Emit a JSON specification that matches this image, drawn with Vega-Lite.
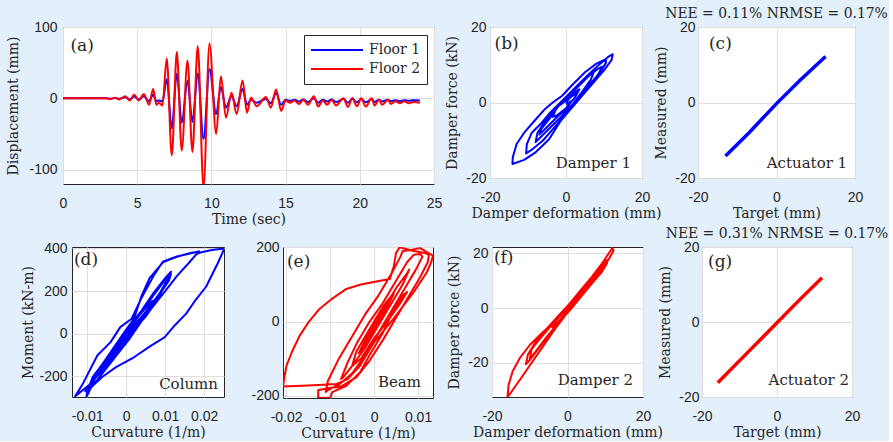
{
  "$schema": "https://vega.github.io/schema/vega-lite/v6.json",
  "background": "#e3effa",
  "padding": {"left": 6, "top": 6, "right": 0, "bottom": 0},
  "columns": 1,
  "align": "none",
  "spacing": -1,
  "config": {
    "view": {"stroke": "#262626", "strokeWidth": 1, "fill": "white"},
    "axis": {"grid": true, "gridColor": "#dedede", "gridWidth": 1, "ticks": false, "domain": false, "labelFont": "Liberation Sans", "labelFontSize": 14, "labelColor": "#262626", "labelFlush": false, "titleFont": "DejaVu Serif", "titleFontSize": 14, "titleFontWeight": "normal", "titleColor": "#262626"},
    "axisX": {"labelPadding": 12, "titlePadding": 2},
    "axisY": {"labelPadding": 5, "titlePadding": 6},
    "title": {"font": "DejaVu Serif", "fontSize": 13.9, "fontWeight": "normal", "color": "#262626", "offset": -1}
  },
  "datasets": {
    "th": [
      {"s":"Floor 1","t":0,"v":0},{"s":"Floor 1","t":2.9,"v":0},{"s":"Floor 1","t":3.2,"v":-0.5},{"s":"Floor 1","t":3.5,"v":0.5},{"s":"Floor 1","t":3.8,"v":-0.5},{"s":"Floor 1","t":4.2,"v":1.5},{"s":"Floor 1","t":4.5,"v":-1.5},{"s":"Floor 1","t":4.8,"v":2.5},{"s":"Floor 1","t":5.1,"v":-1.5},{"s":"Floor 1","t":5.45,"v":3},{"s":"Floor 1","t":5.8,"v":-4},{"s":"Floor 1","t":6.07,"v":5},{"s":"Floor 1","t":6.3,"v":-4},{"s":"Floor 1","t":6.45,"v":-3},{"s":"Floor 1","t":6.7,"v":-4.5},{"s":"Floor 1","t":6.99,"v":27},{"s":"Floor 1","t":7.33,"v":-42},{"s":"Floor 1","t":7.67,"v":35},{"s":"Floor 1","t":8.0,"v":-34},{"s":"Floor 1","t":8.39,"v":24.5},{"s":"Floor 1","t":8.72,"v":-33},{"s":"Floor 1","t":9.08,"v":35},{"s":"Floor 1","t":9.47,"v":-57},{"s":"Floor 1","t":9.87,"v":41},{"s":"Floor 1","t":10.32,"v":-22},{"s":"Floor 1","t":10.64,"v":16},{"s":"Floor 1","t":10.98,"v":-13},{"s":"Floor 1","t":11.36,"v":3},{"s":"Floor 1","t":11.7,"v":-11},{"s":"Floor 1","t":12.1,"v":13},{"s":"Floor 1","t":12.4,"v":-9},{"s":"Floor 1","t":12.67,"v":-2},{"s":"Floor 1","t":13.05,"v":-6},{"s":"Floor 1","t":13.68,"v":-1},{"s":"Floor 1","t":14.0,"v":-7},{"s":"Floor 1","t":14.36,"v":7},{"s":"Floor 1","t":14.7,"v":-9},{"s":"Floor 1","t":15.0,"v":-2},{"s":"Floor 1","t":15.3,"v":-3.5},{"s":"Floor 1","t":15.6,"v":-2},{"s":"Floor 1","t":15.9,"v":-4.5},{"s":"Floor 1","t":16.2,"v":-1.5},{"s":"Floor 1","t":16.5,"v":-5},{"s":"Floor 1","t":16.9,"v":0},{"s":"Floor 1","t":17.2,"v":-6},{"s":"Floor 1","t":17.5,"v":-2},{"s":"Floor 1","t":17.8,"v":-4.5},{"s":"Floor 1","t":18.1,"v":-1.5},{"s":"Floor 1","t":18.4,"v":-5},{"s":"Floor 1","t":18.9,"v":-1},{"s":"Floor 1","t":19.2,"v":-6},{"s":"Floor 1","t":19.5,"v":-1},{"s":"Floor 1","t":19.8,"v":-5.5},{"s":"Floor 1","t":20.1,"v":-1},{"s":"Floor 1","t":20.4,"v":-5.5},{"s":"Floor 1","t":20.8,"v":-1},{"s":"Floor 1","t":21.0,"v":-5},{"s":"Floor 1","t":21.3,"v":-2},{"s":"Floor 1","t":21.5,"v":-4.5},{"s":"Floor 1","t":21.9,"v":-2},{"s":"Floor 1","t":22.1,"v":-4},{"s":"Floor 1","t":22.4,"v":-2.5},{"s":"Floor 1","t":22.7,"v":-4},{"s":"Floor 1","t":23.0,"v":-2.5},{"s":"Floor 1","t":23.3,"v":-3.5},{"s":"Floor 1","t":23.6,"v":-2.5},{"s":"Floor 1","t":24.05,"v":-3},
      {"s":"Floor 2","t":0,"v":0},{"s":"Floor 2","t":2.9,"v":0},{"s":"Floor 2","t":3.2,"v":-1},{"s":"Floor 2","t":3.5,"v":1},{"s":"Floor 2","t":3.8,"v":-1.5},{"s":"Floor 2","t":4.2,"v":3},{"s":"Floor 2","t":4.5,"v":-3},{"s":"Floor 2","t":4.8,"v":5},{"s":"Floor 2","t":5.1,"v":-3},{"s":"Floor 2","t":5.45,"v":6},{"s":"Floor 2","t":5.8,"v":-9},{"s":"Floor 2","t":6.07,"v":13},{"s":"Floor 2","t":6.3,"v":-9},{"s":"Floor 2","t":6.45,"v":-6},{"s":"Floor 2","t":6.7,"v":-10},{"s":"Floor 2","t":6.99,"v":56},{"s":"Floor 2","t":7.33,"v":-80},{"s":"Floor 2","t":7.67,"v":65},{"s":"Floor 2","t":8.0,"v":-73},{"s":"Floor 2","t":8.39,"v":53},{"s":"Floor 2","t":8.72,"v":-75},{"s":"Floor 2","t":9.08,"v":73},{"s":"Floor 2","t":9.47,"v":-125},{"s":"Floor 2","t":9.87,"v":77},{"s":"Floor 2","t":10.32,"v":-50},{"s":"Floor 2","t":10.64,"v":31},{"s":"Floor 2","t":10.98,"v":-27},{"s":"Floor 2","t":11.36,"v":8},{"s":"Floor 2","t":11.7,"v":-22},{"s":"Floor 2","t":12.1,"v":25},{"s":"Floor 2","t":12.4,"v":-20},{"s":"Floor 2","t":12.67,"v":1},{"s":"Floor 2","t":13.05,"v":-11},{"s":"Floor 2","t":13.68,"v":2},{"s":"Floor 2","t":14.0,"v":-13},{"s":"Floor 2","t":14.36,"v":12.5},{"s":"Floor 2","t":14.7,"v":-17.6},{"s":"Floor 2","t":15.0,"v":-3},{"s":"Floor 2","t":15.3,"v":-6},{"s":"Floor 2","t":15.6,"v":-3},{"s":"Floor 2","t":15.9,"v":-8},{"s":"Floor 2","t":16.2,"v":-2},{"s":"Floor 2","t":16.5,"v":-9},{"s":"Floor 2","t":16.9,"v":3},{"s":"Floor 2","t":17.2,"v":-11.5},{"s":"Floor 2","t":17.5,"v":-3},{"s":"Floor 2","t":17.8,"v":-9},{"s":"Floor 2","t":18.1,"v":-2},{"s":"Floor 2","t":18.4,"v":-10},{"s":"Floor 2","t":18.9,"v":0},{"s":"Floor 2","t":19.2,"v":-12},{"s":"Floor 2","t":19.5,"v":0.5},{"s":"Floor 2","t":19.8,"v":-11},{"s":"Floor 2","t":20.1,"v":0},{"s":"Floor 2","t":20.4,"v":-11.5},{"s":"Floor 2","t":20.8,"v":0},{"s":"Floor 2","t":21.0,"v":-10},{"s":"Floor 2","t":21.3,"v":-2},{"s":"Floor 2","t":21.5,"v":-9},{"s":"Floor 2","t":21.9,"v":-2},{"s":"Floor 2","t":22.1,"v":-8},{"s":"Floor 2","t":22.4,"v":-4},{"s":"Floor 2","t":22.7,"v":-7},{"s":"Floor 2","t":23.0,"v":-4},{"s":"Floor 2","t":23.3,"v":-7},{"s":"Floor 2","t":23.6,"v":-5},{"s":"Floor 2","t":24.05,"v":-6}
    ],
    "b": [
      {"x":0,"y":0},{"x":2,"y":2.5},{"x":3.5,"y":3.5},{"x":2.5,"y":1.5},{"x":0,"y":-1.5},{"x":-2.5,"y":-3.5},{"x":-3.5,"y":-3.8},{"x":-2.5,"y":-1.5},{"x":0,"y":1},
      {"x":3,"y":4.5},{"x":6,"y":7.5},{"x":7.5,"y":8.5},{"x":6.5,"y":6},{"x":4,"y":2.5},{"x":1,"y":-1.5},{"x":-2,"y":-4.5},{"x":-5,"y":-7.5},{"x":-7.5,"y":-10},{"x":-8,"y":-10.5},{"x":-7.5,"y":-8},{"x":-5.5,"y":-5},{"x":-3,"y":-1.5},{"x":0,"y":1.5},
      {"x":3,"y":4.5},{"x":6,"y":7.5},{"x":9,"y":10.3},{"x":11,"y":12},{"x":12.3,"y":12.8},{"x":12,"y":11.3},{"x":10,"y":8.5},{"x":7,"y":5},{"x":4,"y":1.5},{"x":1,"y":-2},{"x":-1.5,"y":-5},{"x":-4.5,"y":-9.8},{"x":-8,"y":-13.2},{"x":-11,"y":-15.2},{"x":-14.1,"y":-16.3},{"x":-14,"y":-14.5},{"x":-13,"y":-11},{"x":-11,"y":-8},{"x":-8,"y":-4.5},{"x":-5.5,"y":-1.7},{"x":-3.5,"y":0},{"x":-1,"y":1.8},{"x":1.5,"y":4.5},
      {"x":5,"y":8},{"x":8,"y":10.3},{"x":10.5,"y":11.5},{"x":10.5,"y":10.5},{"x":9,"y":8},{"x":6,"y":4.5},{"x":3,"y":0.5},{"x":0,"y":-3},{"x":-3,"y":-6.5},{"x":-6,"y":-10},{"x":-9,"y":-12.5},{"x":-10.5,"y":-13.5},{"x":-10.3,"y":-11},{"x":-9,"y":-8},{"x":-6.5,"y":-5.5},{"x":-4,"y":-2.5},{"x":-2,"y":-0.5},{"x":0,"y":1.3},{"x":3,"y":4},{"x":6,"y":7},{"x":8.5,"y":9},{"x":9.5,"y":9.5},{"x":8.5,"y":7.5},{"x":6,"y":4},{"x":3,"y":0.5},{"x":0.5,"y":-1.5},{"x":-2,"y":-3.5},{"x":-5,"y":-6.5},{"x":-7,"y":-8.5},{"x":-6.5,"y":-7},{"x":-4.5,"y":-4.5},{"x":-2,"y":-1},{"x":0,"y":0.5},{"x":2,"y":2},{"x":3,"y":2.5},{"x":2,"y":0.8},{"x":0,"y":-0.5}
    ],
    "c": [{"x":-13,"y":-14.2},{"x":-7,"y":-8},{"x":0,"y":-0.3},{"x":6,"y":5.9},{"x":12.5,"y":12.2}],
    "g": [{"x":-15.8,"y":-16.2},{"x":-8,"y":-8.3},{"x":0,"y":-0.2},{"x":6,"y":5.9},{"x":12,"y":11.8}],
    "d": [
      {"x":0,"y":0},{"x":0.002,"y":40},{"x":0.004,"y":80},{"x":0.005,"y":90},{"x":0.003,"y":50},{"x":0,"y":0},{"x":-0.002,"y":-40},{"x":-0.003,"y":-60},{"x":-0.001,"y":-20},{"x":0.001,"y":20},
      {"x":0.004,"y":80},{"x":0.007,"y":150},{"x":0.009,"y":200},{"x":0.0095,"y":210},{"x":0.008,"y":160},{"x":0.005,"y":80},{"x":0.002,"y":20},{"x":-0.001,"y":-50},{"x":-0.004,"y":-110},{"x":-0.006,"y":-160},{"x":-0.0065,"y":-170},{"x":-0.005,"y":-120},{"x":-0.003,"y":-60},{"x":-0.001,"y":-10},{"x":0.001,"y":40},{"x":0.004,"y":110},{"x":0.007,"y":190},{"x":0.010,"y":260},{"x":0.0115,"y":290},{"x":0.0105,"y":250},{"x":0.008,"y":170},{"x":0.005,"y":90},{"x":0.002,"y":30},{"x":-0.001,"y":-40},{"x":-0.004,"y":-110},{"x":-0.007,"y":-180},{"x":-0.009,"y":-230},{"x":-0.0095,"y":-245},{"x":-0.0085,"y":-200},{"x":-0.006,"y":-140},{"x":-0.003,"y":-60},
      {"x":0,"y":20},{"x":0.002,"y":70},{"x":0.004,"y":180},{"x":0.006,"y":260},{"x":0.0095,"y":335},{"x":0.013,"y":360},{"x":0.0165,"y":378},{"x":0.0187,"y":385},{"x":0.018,"y":372},{"x":0.016,"y":330},{"x":0.013,"y":270},{"x":0.010,"y":200},{"x":0.007,"y":130},{"x":0.004,"y":60},{"x":0.001,"y":-20},{"x":-0.002,"y":-90},{"x":-0.005,"y":-160},{"x":-0.008,"y":-230},{"x":-0.0100,"y":-275},{"x":-0.0102,"y":-296},{"x":-0.0095,"y":-270},{"x":-0.008,"y":-210},{"x":-0.0065,"y":-160},{"x":-0.004,"y":-90},{"x":-0.0015,"y":-20},
      {"x":0.001,"y":30},{"x":0.004,"y":100},{"x":0.007,"y":180},{"x":0.0095,"y":240},{"x":0.0115,"y":280},{"x":0.011,"y":250},{"x":0.008,"y":170},{"x":0.005,"y":90},{"x":0.002,"y":10},{"x":-0.002,"y":-80},{"x":-0.006,"y":-170},{"x":-0.0095,"y":-240},{"x":-0.0131,"y":-293},
      {"x":-0.011,"y":-230},{"x":-0.0074,"y":-102},{"x":-0.004,"y":-39},{"x":-0.0015,"y":31},{"x":0.0014,"y":70},{"x":0.004,"y":170},{"x":0.007,"y":270},{"x":0.0094,"y":337},{"x":0.013,"y":362},{"x":0.0175,"y":380},{"x":0.0187,"y":386},{"x":0.0182,"y":374},{"x":0.019,"y":380},{"x":0.022,"y":392},{"x":0.0252,"y":399},
      {"x":0.0235,"y":330},{"x":0.0205,"y":220},{"x":0.0175,"y":150},{"x":0.0154,"y":94},{"x":0.0125,"y":40},{"x":0.0099,"y":-16},{"x":0.006,"y":-60},{"x":0.002,"y":-110},{"x":-0.0025,"y":-155},{"x":-0.006,"y":-200},{"x":-0.009,"y":-250},{"x":-0.0105,"y":-270},{"x":-0.0095,"y":-245},{"x":-0.007,"y":-170},{"x":-0.004,"y":-100},{"x":-0.001,"y":-30},{"x":0.002,"y":60},{"x":0.004,"y":100},{"x":0.0065,"y":150},{"x":0.0075,"y":160},{"x":0.006,"y":120},{"x":0.003,"y":50},{"x":0,"y":-20},{"x":-0.003,"y":-90},{"x":-0.005,"y":-140},{"x":-0.0055,"y":-145},{"x":-0.004,"y":-100},{"x":-0.002,"y":-50},{"x":0,"y":0}
    ],
    "e": [
      {"x":0,"y":0},{"x":0.002,"y":40},{"x":0.004,"y":70},{"x":0.0045,"y":75},{"x":0.003,"y":40},{"x":0.001,"y":0},{"x":-0.001,"y":-40},{"x":-0.003,"y":-80},{"x":-0.0035,"y":-85},{"x":-0.002,"y":-50},{"x":0,"y":-10},{"x":0.002,"y":30},
      {"x":0.005,"y":90},{"x":0.0075,"y":130},{"x":0.008,"y":140},{"x":0.0065,"y":100},{"x":0.004,"y":50},{"x":0.001,"y":-10},{"x":-0.002,"y":-70},{"x":-0.005,"y":-120},{"x":-0.007,"y":-150},{"x":-0.0075,"y":-155},{"x":-0.006,"y":-110},{"x":-0.004,"y":-60},{"x":-0.001,"y":0},{"x":0.002,"y":50},{"x":0.005,"y":110},{"x":0.0075,"y":160},{"x":0.009,"y":180},{"x":0.0105,"y":182},{"x":0.011,"y":175},{"x":0.0095,"y":140},{"x":0.007,"y":90},{"x":0.004,"y":30},{"x":0.001,"y":-30},{"x":-0.002,"y":-90},{"x":-0.005,"y":-140},{"x":-0.008,"y":-170},{"x":-0.0105,"y":-185},{"x":-0.011,"y":-190},{"x":-0.0105,"y":-160},{"x":-0.008,"y":-100},{"x":-0.005,"y":-40},{"x":-0.002,"y":20},{"x":0.001,"y":70},{"x":0.004,"y":130},{"x":0.006,"y":175},{"x":0.0065,"y":190},{"x":0.008,"y":192},{"x":0.0095,"y":196},{"x":0.0105,"y":198},{"x":0.012,"y":187},{"x":0.0134,"y":178},{"x":0.013,"y":160},{"x":0.012,"y":133},{"x":0.009,"y":79},{"x":0.0044,"y":7},{"x":0,"y":-56},{"x":-0.0032,"y":-119},{"x":-0.006,"y":-155},{"x":-0.0085,"y":-168},{"x":-0.0116,"y":-170},{"x":-0.015,"y":-172},{"x":-0.0207,"y":-175},
      {"x":-0.0204,"y":-150},{"x":-0.0199,"y":-119},{"x":-0.0186,"y":-80},{"x":-0.0169,"y":-38},{"x":-0.0148,"y":0},{"x":-0.0124,"y":34},{"x":-0.0095,"y":62},{"x":-0.0063,"y":88},{"x":-0.003,"y":100},{"x":0.0005,"y":108},{"x":0.0036,"y":115},{"x":0.0045,"y":150},{"x":0.005,"y":185},{"x":0.0058,"y":200},{"x":0.0075,"y":195},{"x":0.009,"y":190},{"x":0.0115,"y":185},{"x":0.0125,"y":180},{"x":0.0122,"y":160},{"x":0.0105,"y":120},{"x":0.008,"y":70},{"x":0.005,"y":10},{"x":0.002,"y":-50},{"x":-0.001,"y":-105},{"x":-0.004,"y":-150},{"x":-0.0075,"y":-175},{"x":-0.0105,"y":-180},{"x":-0.0127,"y":-185},{"x":-0.0127,"y":-205},{"x":-0.010,"y":-206},{"x":-0.0095,"y":-190},{"x":-0.0063,"y":-173},{"x":-0.0032,"y":-137},{"x":-0.001,"y":-90},{"x":0.002,"y":-30},{"x":0.004,"y":20},{"x":0.0065,"y":70},{"x":0.0075,"y":80},{"x":0.006,"y":50},{"x":0.003,"y":0},{"x":0,"y":-45},{"x":-0.003,"y":-100},{"x":-0.005,"y":-120},{"x":-0.004,"y":-80},{"x":-0.001,"y":-20},{"x":0.001,"y":20}
    ],
    "f": [
      {"x":0,"y":0},{"x":2,"y":3.5},{"x":3.5,"y":5.5},{"x":2.5,"y":3},{"x":0,"y":-1.5},{"x":-2.5,"y":-5},{"x":-4,"y":-7},{"x":-3,"y":-4.5},{"x":-1,"y":-1.5},{"x":1,"y":2},{"x":4,"y":7},{"x":7,"y":12},{"x":9.5,"y":16.5},{"x":10.5,"y":17.5},{"x":10,"y":15.5},{"x":7.5,"y":11.5},{"x":4.5,"y":6.5},{"x":1.5,"y":1.5},{"x":-1.5,"y":-3.5},{"x":-4.5,"y":-9},{"x":-7.5,"y":-14.5},{"x":-10,"y":-19},{"x":-11,"y":-20.5},{"x":-10.5,"y":-17},{"x":-8.5,"y":-12.5},{"x":-5.5,"y":-7.5},{"x":-2.5,"y":-3},{"x":0.5,"y":1.5},{"x":3.5,"y":6.5},{"x":6.5,"y":11.5},{"x":9.5,"y":17},{"x":11.9,"y":22},{"x":12.2,"y":21},{"x":11,"y":18},{"x":8.5,"y":13.5},{"x":5.5,"y":8},{"x":2.5,"y":3},{"x":-0.5,"y":-2.5},{"x":-3.5,"y":-8},{"x":-6.5,"y":-14},{"x":-9.5,"y":-20},{"x":-12.5,"y":-26},{"x":-14.8,"y":-30.5},{"x":-15.9,"y":-32.5},{"x":-15.6,"y":-28},{"x":-14.5,"y":-23},{"x":-12.5,"y":-18},{"x":-10,"y":-13.5},{"x":-7,"y":-9.5},{"x":-4,"y":-5.5},{"x":-1,"y":-1.5},{"x":2,"y":3},{"x":5,"y":8.5},{"x":8,"y":13.5},{"x":10,"y":17},{"x":10.5,"y":16.5},{"x":9,"y":13},{"x":6.5,"y":9},{"x":3.5,"y":4},{"x":0.5,"y":-1},{"x":-2.5,"y":-5.5},{"x":-5.5,"y":-10.5},{"x":-8.5,"y":-16},{"x":-10,"y":-18.5},{"x":-9.5,"y":-15},{"x":-7.5,"y":-11.5},{"x":-5,"y":-7.5},{"x":-2,"y":-3},{"x":0,"y":0}
    ]
  },
  "concat": [
    {
      "bounds": "flush",
      "spacing": 56,
      "hconcat": [
        {
          "width": 371, "height": 157,
          "layer": [
            {
              "data": {"name": "th"},
              "mark": {"type": "line", "interpolate": "monotone", "strokeWidth": 2, "clip": true},
              "encoding": {
                "x": {"field": "t", "type": "quantitative", "scale": {"domain": [0, 25], "nice": false, "zero": false}, "axis": {"values": [0, 5, 10, 15, 20, 25], "title": "Time (sec)", "labelExpr": "toString(datum.value)"}},
                "y": {"field": "v", "type": "quantitative", "scale": {"domain": [-120, 100], "nice": false, "zero": false}, "axis": {"values": [-100, -50, 0, 50, 100], "title": "Displacement (mm)", "labelExpr": "toString(datum.value)", "labelPadding": 6, "titlePadding": 8}},
                "color": {"field": "s", "type": "nominal", "scale": {"domain": ["Floor 1", "Floor 2"], "range": ["#0000ff", "#ff0000"]},
                  "legend": {"title": null, "orient": "none", "legendX": 241, "legendY": 8, "fillColor": "white", "strokeColor": "#262626", "padding": 6, "symbolType": "stroke", "symbolSize": 2700, "symbolStrokeWidth": 2, "clipHeight": 18, "rowPadding": 1, "labelFont": "DejaVu Serif", "labelFontSize": 14, "labelColor": "#262626", "labelOffset": 5}}
              }
            },
            {
              "data": {"values": [{"lab": "(a)"}]},
              "mark": {"type": "text", "align": "left", "baseline": "middle", "font": "DejaVu Serif", "fontSize": 17, "color": "#262626"},
              "encoding": {"x": {"datum": 0.5, "type": "quantitative"}, "y": {"datum": 72.7, "type": "quantitative"}, "text": {"field": "lab"}}
            }
          ]
        },
        {
          "width": 152, "height": 151,
          "layer": [
            {
              "data": {"name": "b"},
              "mark": {"type": "line", "strokeWidth": 2, "clip": true, "color": "#0000ff", "strokeJoin": "round"},
              "encoding": {
                "x": {"field": "x", "type": "quantitative", "scale": {"domain": [-20, 20], "nice": false}, "axis": {"values": [-20, 0, 20], "title": "Damper deformation (mm)", "labelExpr": "toString(datum.value)"}},
                "y": {"field": "y", "type": "quantitative", "scale": {"domain": [-20, 20], "nice": false}, "axis": {"values": [-20, 0, 20], "title": "Damper force (kN)", "labelExpr": "toString(datum.value)", "labelPadding": 4}},
                "order": {"value": null}
              }
            },
            {
              "data": {"values": [{"lab": "(b)"}]},
              "mark": {"type": "text", "align": "left", "baseline": "middle", "font": "DejaVu Serif", "fontSize": 17, "color": "#262626"},
              "encoding": {"x": {"datum": -18.8, "type": "quantitative"}, "y": {"datum": 15.5, "type": "quantitative"}, "text": {"field": "lab"}}
            },
            {
              "data": {"values": [{"lab": "Damper 1"}]},
              "mark": {"type": "text", "align": "right", "baseline": "alphabetic", "font": "DejaVu Serif", "fontSize": 15, "color": "#262626"},
              "encoding": {"x": {"datum": 17.1, "type": "quantitative"}, "y": {"datum": -17.35, "type": "quantitative"}, "text": {"field": "lab"}}
            }
          ]
        },
        {
          "width": 157, "height": 151,
          "title": {"text": "NEE = 0.11% NRMSE = 0.17%"},
          "layer": [
            {
              "data": {"name": "c"},
              "mark": {"type": "line", "strokeWidth": 3.5, "clip": true, "color": "#0000ff"},
              "encoding": {
                "x": {"field": "x", "type": "quantitative", "scale": {"domain": [-20, 20], "nice": false}, "axis": {"values": [-20, 0, 20], "title": "Target (mm)", "labelExpr": "toString(datum.value)"}},
                "y": {"field": "y", "type": "quantitative", "scale": {"domain": [-20, 20], "nice": false}, "axis": {"values": [-20, 0, 20], "title": "Measured (mm)", "labelExpr": "toString(datum.value)", "labelPadding": 3}},
                "order": {"value": null}
              }
            },
            {
              "data": {"values": [{"lab": "(c)"}]},
              "mark": {"type": "text", "align": "left", "baseline": "middle", "font": "DejaVu Serif", "fontSize": 17, "color": "#262626"},
              "encoding": {"x": {"datum": -17.2, "type": "quantitative"}, "y": {"datum": 15.5, "type": "quantitative"}, "text": {"field": "lab"}}
            },
            {
              "data": {"values": [{"lab": "Actuator 1"}]},
              "mark": {"type": "text", "align": "right", "baseline": "alphabetic", "font": "DejaVu Serif", "fontSize": 15, "color": "#262626"},
              "encoding": {"x": {"datum": 18, "type": "quantitative"}, "y": {"datum": -17.35, "type": "quantitative"}, "text": {"field": "lab"}}
            }
          ]
        }
      ]
    },
    {
      "bounds": "flush",
      "spacing": 8,
      "hconcat": [
        {
          "width": 1, "height": 1,
          "view": {"stroke": null, "fill": null},
          "data": {"values": []},
          "mark": "point",
          "encoding": {}
        },
        {
          "bounds": "flush",
          "spacing": 59,
          "hconcat": [
            {
              "width": 152, "height": 150,
              "layer": [
                {
                  "data": {"name": "d"},
                  "mark": {"type": "line", "strokeWidth": 2, "clip": true, "color": "#0000ff", "strokeJoin": "round"},
                  "encoding": {
                    "x": {"field": "x", "type": "quantitative", "scale": {"domain": [-0.0139, 0.0251], "nice": false, "zero": false}, "axis": {"values": [-0.01, 0, 0.01, 0.02], "title": "Curvature (1/m)", "labelExpr": "toString(datum.value)"}},
                    "y": {"field": "y", "type": "quantitative", "scale": {"domain": [-296, 406], "nice": false, "zero": false}, "axis": {"values": [-200, 0, 200, 400], "title": "Moment (kN-m)", "labelExpr": "toString(datum.value)", "labelPadding": 5, "titlePadding": 3}},
                    "order": {"value": null}
                  }
                },
                {
                  "data": {"values": [{"lab": "(d)"}]},
                  "mark": {"type": "text", "align": "left", "baseline": "middle", "font": "DejaVu Serif", "fontSize": 17, "color": "#262626"},
                  "encoding": {"x": {"datum": -0.0134, "type": "quantitative"}, "y": {"datum": 345, "type": "quantitative"}, "text": {"field": "lab"}}
                },
                {
                  "data": {"values": [{"lab": "Column"}]},
                  "mark": {"type": "text", "align": "right", "baseline": "alphabetic", "font": "DejaVu Serif", "fontSize": 15, "color": "#262626"},
                  "encoding": {"x": {"datum": 0.02356, "type": "quantitative"}, "y": {"datum": -258, "type": "quantitative"}, "text": {"field": "lab"}}
                }
              ]
            },
            {
              "width": 150, "height": 151,
              "layer": [
                {
                  "data": {"name": "e"},
                  "mark": {"type": "line", "strokeWidth": 2, "clip": true, "color": "#ff0000", "strokeJoin": "round"},
                  "encoding": {
                    "x": {"field": "x", "type": "quantitative", "scale": {"domain": [-0.0207, 0.0134], "nice": false, "zero": false}, "axis": {"values": [-0.02, -0.01, 0, 0.01], "title": "Curvature (1/m)", "labelExpr": "toString(datum.value)"}},
                    "y": {"field": "y", "type": "quantitative", "scale": {"domain": [-206, 201], "nice": false, "zero": false}, "axis": {"values": [-200, 0, 200], "title": null, "labelExpr": "toString(datum.value)", "labelPadding": 4}},
                    "order": {"value": null}
                  }
                },
                {
                  "data": {"values": [{"lab": "(e)"}]},
                  "mark": {"type": "text", "align": "left", "baseline": "middle", "font": "DejaVu Serif", "fontSize": 17, "color": "#262626"},
                  "encoding": {"x": {"datum": -0.0198, "type": "quantitative"}, "y": {"datum": 160, "type": "quantitative"}, "text": {"field": "lab"}}
                },
                {
                  "data": {"values": [{"lab": "Beam"}]},
                  "mark": {"type": "text", "align": "right", "baseline": "alphabetic", "font": "DejaVu Serif", "fontSize": 15, "color": "#262626"},
                  "encoding": {"x": {"datum": 0.01067, "type": "quantitative"}, "y": {"datum": -176, "type": "quantitative"}, "text": {"field": "lab"}}
                }
              ]
            },
            {
              "width": 151, "height": 150,
              "layer": [
                {
                  "data": {"name": "f"},
                  "mark": {"type": "line", "strokeWidth": 2, "clip": true, "color": "#ff0000", "strokeJoin": "round"},
                  "encoding": {
                    "x": {"field": "x", "type": "quantitative", "scale": {"domain": [-20, 20], "nice": false}, "axis": {"values": [-20, 0, 20], "title": "Damper deformation (mm)", "labelExpr": "toString(datum.value)"}},
                    "y": {"field": "y", "type": "quantitative", "scale": {"domain": [-32.5, 22.3], "nice": false, "zero": false}, "axis": {"values": [-20, 0, 20], "title": "Damper force (kN)", "labelExpr": "toString(datum.value)", "labelPadding": 4}},
                    "order": {"value": null}
                  }
                },
                {
                  "data": {"values": [{"lab": "(f)"}]},
                  "mark": {"type": "text", "align": "left", "baseline": "middle", "font": "DejaVu Serif", "fontSize": 17, "color": "#262626"},
                  "encoding": {"x": {"datum": -19.5, "type": "quantitative"}, "y": {"datum": 18.3, "type": "quantitative"}, "text": {"field": "lab"}}
                },
                {
                  "data": {"values": [{"lab": "Damper 2"}]},
                  "mark": {"type": "text", "align": "right", "baseline": "alphabetic", "font": "DejaVu Serif", "fontSize": 15, "color": "#262626"},
                  "encoding": {"x": {"datum": 17.35, "type": "quantitative"}, "y": {"datum": -28.1, "type": "quantitative"}, "text": {"field": "lab"}}
                }
              ]
            },
            {
              "width": 150, "height": 150,
              "title": {"text": "NEE = 0.31% NRMSE = 0.17%"},
              "layer": [
                {
                  "data": {"name": "g"},
                  "mark": {"type": "line", "strokeWidth": 3.5, "clip": true, "color": "#ff0000"},
                  "encoding": {
                    "x": {"field": "x", "type": "quantitative", "scale": {"domain": [-20, 20], "nice": false}, "axis": {"values": [-20, 0, 20], "title": "Target (mm)", "labelExpr": "toString(datum.value)"}},
                    "y": {"field": "y", "type": "quantitative", "scale": {"domain": [-20, 20], "nice": false}, "axis": {"values": [-20, 0, 20], "title": "Measured (mm)", "labelExpr": "toString(datum.value)", "labelPadding": 3}},
                    "order": {"value": null}
                  }
                },
                {
                  "data": {"values": [{"lab": "(g)"}]},
                  "mark": {"type": "text", "align": "left", "baseline": "middle", "font": "DejaVu Serif", "fontSize": 17, "color": "#262626"},
                  "encoding": {"x": {"datum": -18.4, "type": "quantitative"}, "y": {"datum": 16, "type": "quantitative"}, "text": {"field": "lab"}}
                },
                {
                  "data": {"values": [{"lab": "Actuator 2"}]},
                  "mark": {"type": "text", "align": "right", "baseline": "alphabetic", "font": "DejaVu Serif", "fontSize": 15, "color": "#262626"},
                  "encoding": {"x": {"datum": 19.2, "type": "quantitative"}, "y": {"datum": -16.8, "type": "quantitative"}, "text": {"field": "lab"}}
                }
              ]
            }
          ]
        }
      ]
    }
  ]
}
